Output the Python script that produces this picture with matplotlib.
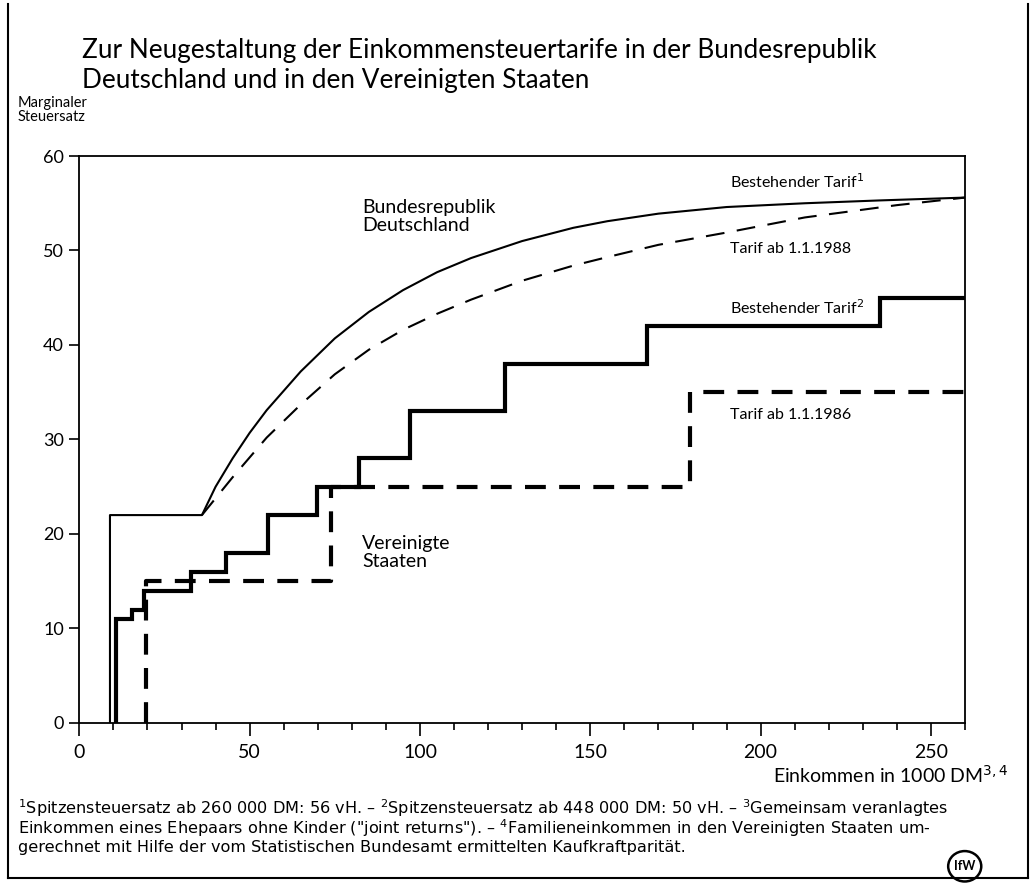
import matplotlib.pyplot as plt
from matplotlib.lines import Line2D
from matplotlib.patches import Ellipse

plt.rcParams['font.family'] = ['Lato', 'DejaVu Sans']

# Bundesrepublik: bestehender Tarif (solid) and Tarif ab 1.1.1988 (dashed)
de_old_x = [9, 9, 36, 40, 45, 50, 55, 65, 75, 85, 95, 105, 115, 130, 145, 155, 170, 190, 213, 235, 260]
de_old_y = [0, 22, 22, 25.0, 28.0, 30.7, 33.1, 37.2, 40.7, 43.5, 45.8, 47.7, 49.2, 51.0, 52.4, 53.1, 53.9, 54.6, 55.0, 55.3, 55.6]
de_new_x = [36, 45, 55, 65, 75, 85, 95, 105, 115, 130, 145, 155, 170, 190, 213, 240, 260]
de_new_y = [22, 26.0, 30.2, 33.7, 36.9, 39.5, 41.6, 43.3, 44.8, 46.8, 48.4, 49.3, 50.6, 51.9, 53.5, 54.8, 55.6]

# Vereinigte Staaten: step tariffs (left edge of each bracket, rate)
us_old_edges = [10.7, 15.5, 19.0, 32.7, 43.2, 55.5, 69.8, 82.0, 97.0, 125.0, 166.5, 235.0, 260]
us_old_rates = [11, 12, 14, 16, 18, 22, 25, 28, 33, 38, 42, 45]
us_new_edges = [19.6, 74.0, 179.3, 260]
us_new_rates = [15, 25, 35]

notes = ['$^1$Spitzensteuersatz ab 260 000 DM: 56 vH. – $^2$Spitzensteuersatz ab 448 000 DM: 50 vH. – $^3$Gemeinsam veranlagtes',
         'Einkommen eines Ehepaars ohne Kinder ("joint returns"). – $^4$Familieneinkommen in den Vereinigten Staaten um-',
         'gerechnet mit Hilfe der vom Statistischen Bundesamt ermittelten Kaufkraftparität.']

def steps(edges, rates):
    # build the outline of a step tariff starting at 0
    xs = [edges[0]]
    ys = [0]
    for i, r in enumerate(rates):
        xs += [edges[i], edges[i + 1]]
        ys += [r, r]
    return xs, ys

fig = plt.figure(figsize=(10.34, 8.94), dpi=100)
ax = fig.add_axes([0.0767, 0.1913, 0.8566, 0.6342])

ax.plot(de_old_x, de_old_y, color='black', lw=1.5)
ax.plot(de_new_x, de_new_y, color='black', lw=1.5, dashes=(9, 6))

x, y = steps(us_old_edges, us_old_rates)
ax.plot(x, y, color='black', lw=3.0, solid_joinstyle='miter')
x, y = steps(us_new_edges, us_new_rates)
ax.plot(x, y, color='black', lw=3.0, dashes=(5, 3.2))

ax.set_xlim(0, 260)
ax.set_ylim(0, 60)
ax.set_xticks([0, 50, 100, 150, 200, 250])
ax.set_xticks(range(0, 261, 10), minor=True)
ax.set_yticks(range(0, 61, 10))
ax.tick_params(axis='x', which='major', direction='out', length=9, width=1.2, labelsize=14, pad=6)
ax.tick_params(axis='x', which='minor', direction='out', length=5, width=1.2)
ax.tick_params(axis='y', direction='out', length=7, width=1.2, labelsize=13, pad=4)
for s in ax.spines.values():
    s.set_linewidth(1.3)

# labels inside the chart
ax.text(83, 55.5, 'Bundesrepublik\nDeutschland', fontsize=14, va='top', linespacing=1.1)
ax.text(83, 19.9, 'Vereinigte\nStaaten', fontsize=14, va='top', linespacing=1.1)
ax.text(191, 57.3, 'Bestehender Tarif$^1$', fontsize=11.5, va='center')
ax.text(191, 50.2, 'Tarif ab 1.1.1988', fontsize=11.5, va='center')
ax.text(191, 43.9, 'Bestehender Tarif$^2$', fontsize=11.5, va='center')
ax.text(191, 32.6, 'Tarif ab 1.1.1986', fontsize=11.5, va='center')

# title, axis texts
fig.text(0.079, 0.958, 'Zur Neugestaltung der Einkommensteuertarife in der Bundesrepublik\n'
         'Deutschland und in den Vereinigten Staaten', fontsize=18.8, va='top', linespacing=1.25)
fig.text(0.017, 0.893, 'Marginaler\nSteuersatz', fontsize=10.5, va='top', linespacing=1.05)
fig.text(0.975, 0.133, 'Einkommen in 1000 DM$^{3,4}$', fontsize=14, ha='right', va='center')

# footnotes, one line each
for i, line in enumerate(notes):
    fig.text(0.017, 0.096 - i * 0.0222, line, fontsize=11.6, va='center', family='DejaVu Sans')

# small IfW logo
logo = Ellipse((0.933, 0.031), 0.032, 0.034, transform=fig.transFigure, fill=False, lw=1.8, color='black')
fig.patches.append(logo)
fig.text(0.933, 0.031, 'IfW', fontsize=9, fontweight='bold', ha='center', va='center')

# frame around the whole picture
for xs, ys in [([0.008, 0.008], [0.018, 0.995]), ([0.994, 0.994], [0.018, 0.995]),
               ([0.008, 0.994], [0.018, 0.018])]:
    fig.add_artist(Line2D(xs, ys, transform=fig.transFigure, color='black', lw=1.5))

fig.savefig('out.png', dpi=100)
